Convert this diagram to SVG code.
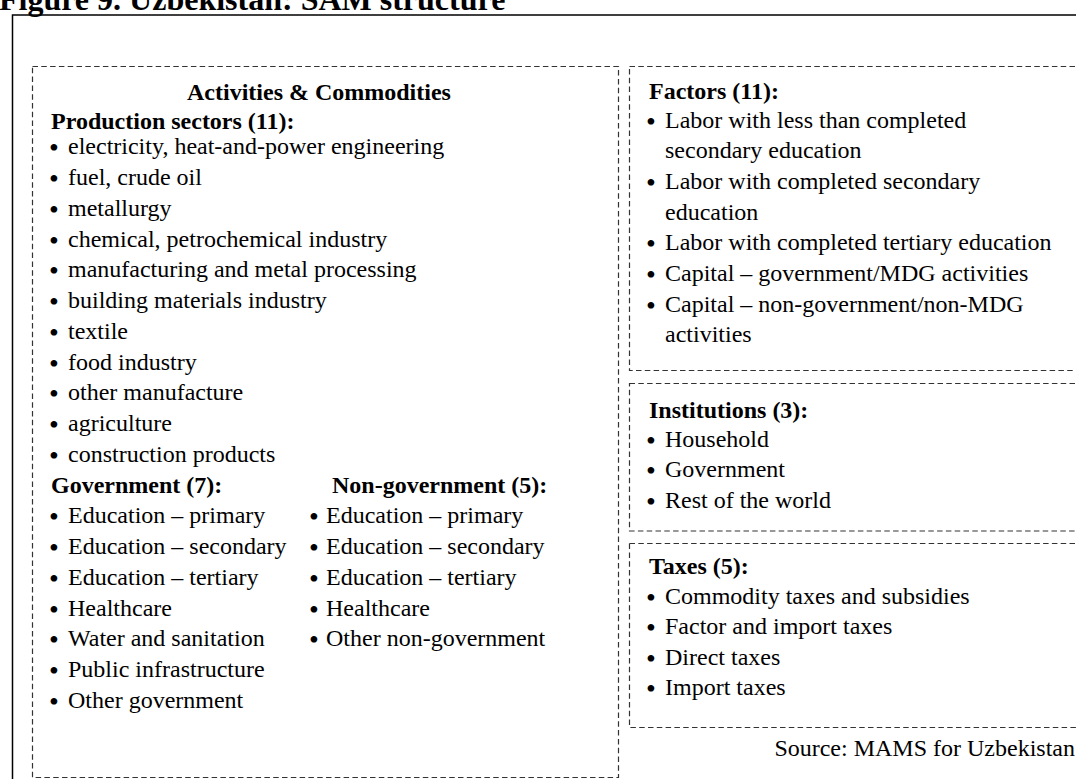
<svg xmlns="http://www.w3.org/2000/svg" width="1076" height="779" viewBox="0 0 1076 779">
  <defs>
    <style>
      text { font-family: "Liberation Serif", "Times New Roman", serif; fill: #000; }
      .t { font-size: 24px; }
      .b { font-size: 24px; font-weight: bold; }
      .dot { font-size: 28px; }
      .title { font-size: 32px; font-weight: bold; }
      .frame { fill: none; stroke: #000; stroke-width: 1.5; }
      .box { fill: none; stroke: #333; stroke-width: 1.2; stroke-dasharray: 5.5 3.3; }
    </style>
    <!-- the government column is cut where the non-government column begins -->
    <clipPath id="govClip">
      <rect x="0" y="470" width="288" height="260"/>
    </clipPath>
  </defs>

  <rect width="1076" height="779" fill="#fff"/>

  <!-- figure caption -->
  <text class="title" x="-1" y="10">Figure 9. Uzbekistan: SAM structure</text>

  <!-- outer frame -->
  <rect class="frame" x="12.5" y="15" width="1090" height="790"/>

  <!-- activities and commodities -->
  <g id="activities">
    <rect class="box" x="32.5" y="66.5" width="586" height="711"/>
    <text class="b" x="187" y="100">Activities &amp; Commodities</text>
    <text class="b" x="51" y="128.5">Production sectors (11):</text>
    <g id="production">
      <text class="t" x="49" y="154.3"><tspan class="dot" dy="3">•</tspan><tspan x="68" dy="-3">electricity, heat-and-power engineering</tspan></text>
      <text class="t" x="49" y="185.05"><tspan class="dot" dy="3">•</tspan><tspan x="68" dy="-3">fuel, crude oil</tspan></text>
      <text class="t" x="49" y="215.8"><tspan class="dot" dy="3">•</tspan><tspan x="68" dy="-3">metallurgy</tspan></text>
      <text class="t" x="49" y="246.55"><tspan class="dot" dy="3">•</tspan><tspan x="68" dy="-3">chemical, petrochemical industry</tspan></text>
      <text class="t" x="49" y="277.3"><tspan class="dot" dy="3">•</tspan><tspan x="68" dy="-3">manufacturing and metal processing</tspan></text>
      <text class="t" x="49" y="308.05"><tspan class="dot" dy="3">•</tspan><tspan x="68" dy="-3">building materials industry</tspan></text>
      <text class="t" x="49" y="338.8"><tspan class="dot" dy="3">•</tspan><tspan x="68" dy="-3">textile</tspan></text>
      <text class="t" x="49" y="369.55"><tspan class="dot" dy="3">•</tspan><tspan x="68" dy="-3">food industry</tspan></text>
      <text class="t" x="49" y="400.3"><tspan class="dot" dy="3">•</tspan><tspan x="68" dy="-3">other manufacture</tspan></text>
      <text class="t" x="49" y="431.05"><tspan class="dot" dy="3">•</tspan><tspan x="68" dy="-3">agriculture</tspan></text>
      <text class="t" x="49" y="461.8"><tspan class="dot" dy="3">•</tspan><tspan x="68" dy="-3">construction products</tspan></text>
    </g>

    <g id="government" clip-path="url(#govClip)">
      <text class="b" x="51" y="492.55">Government (7):</text>
      <text class="t" x="49" y="523.3"><tspan class="dot" dy="3">•</tspan><tspan x="68" dy="-3">Education – primary</tspan></text>
      <text class="t" x="49" y="554.05"><tspan class="dot" dy="3">•</tspan><tspan x="68" dy="-3">Education – secondary</tspan></text>
      <text class="t" x="49" y="584.8"><tspan class="dot" dy="3">•</tspan><tspan x="68" dy="-3">Education – tertiary</tspan></text>
      <text class="t" x="49" y="615.55"><tspan class="dot" dy="3">•</tspan><tspan x="68" dy="-3">Healthcare</tspan></text>
      <text class="t" x="49" y="646.3"><tspan class="dot" dy="3">•</tspan><tspan x="68" dy="-3">Water and sanitation</tspan></text>
      <text class="t" x="49" y="677.05"><tspan class="dot" dy="3">•</tspan><tspan x="68" dy="-3">Public infrastructure</tspan></text>
      <text class="t" x="49" y="707.8"><tspan class="dot" dy="3">•</tspan><tspan x="68" dy="-3">Other government</tspan></text>
    </g>

    <g id="non-government">
      <text class="b" x="332" y="492.55">Non-government (5):</text>
      <text class="t" x="309" y="523.3"><tspan class="dot" dy="3">•</tspan><tspan x="326" dy="-3">Education – primary</tspan></text>
      <text class="t" x="309" y="554.05"><tspan class="dot" dy="3">•</tspan><tspan x="326" dy="-3">Education – secondary</tspan></text>
      <text class="t" x="309" y="584.8"><tspan class="dot" dy="3">•</tspan><tspan x="326" dy="-3">Education – tertiary</tspan></text>
      <text class="t" x="309" y="615.55"><tspan class="dot" dy="3">•</tspan><tspan x="326" dy="-3">Healthcare</tspan></text>
      <text class="t" x="309" y="646.3"><tspan class="dot" dy="3">•</tspan><tspan x="326" dy="-3">Other non-government</tspan></text>
    </g>
  </g>

  <!-- factors -->
  <g id="factors">
    <rect class="box" x="629.5" y="66.5" width="470" height="304"/>
    <text class="b" x="649" y="99">Factors (11):</text>
    <text class="t" x="646" y="127.5"><tspan class="dot" dy="3">•</tspan><tspan x="665" dy="-3">Labor with less than completed</tspan></text>
    <text class="t" x="665" y="158.2">secondary education</text>
    <text class="t" x="646" y="188.9"><tspan class="dot" dy="3">•</tspan><tspan x="665" dy="-3">Labor with completed secondary</tspan></text>
    <text class="t" x="665" y="219.6">education</text>
    <text class="t" x="646" y="250.3"><tspan class="dot" dy="3">•</tspan><tspan x="665" dy="-3">Labor with completed tertiary education</tspan></text>
    <text class="t" x="646" y="281"><tspan class="dot" dy="3">•</tspan><tspan x="665" dy="-3">Capital – government/MDG activities</tspan></text>
    <text class="t" x="646" y="311.7"><tspan class="dot" dy="3">•</tspan><tspan x="665" dy="-3">Capital – non-government/non-MDG</tspan></text>
    <text class="t" x="665" y="342.4">activities</text>
  </g>

  <!-- institutions -->
  <g id="institutions">
    <rect class="box" x="629.5" y="383.5" width="470" height="147.5"/>
    <text class="b" x="649" y="418.3">Institutions (3):</text>
    <text class="t" x="646" y="446.7"><tspan class="dot" dy="3">•</tspan><tspan x="665" dy="-3">Household</tspan></text>
    <text class="t" x="646" y="477.4"><tspan class="dot" dy="3">•</tspan><tspan x="665" dy="-3">Government</tspan></text>
    <text class="t" x="646" y="508.1"><tspan class="dot" dy="3">•</tspan><tspan x="665" dy="-3">Rest of the world</tspan></text>
  </g>

  <!-- taxes -->
  <g id="taxes">
    <rect class="box" x="629.5" y="543.5" width="470" height="184"/>
    <text class="b" x="649" y="574.3">Taxes (5):</text>
    <text class="t" x="646" y="603.8"><tspan class="dot" dy="3">•</tspan><tspan x="665" dy="-3">Commodity taxes and subsidies</tspan></text>
    <text class="t" x="646" y="634.3"><tspan class="dot" dy="3">•</tspan><tspan x="665" dy="-3">Factor and import taxes</tspan></text>
    <text class="t" x="646" y="664.8"><tspan class="dot" dy="3">•</tspan><tspan x="665" dy="-3">Direct taxes</tspan></text>
    <text class="t" x="646" y="695.3"><tspan class="dot" dy="3">•</tspan><tspan x="665" dy="-3">Import taxes</tspan></text>
  </g>

  <text class="t" x="1075" y="756" text-anchor="end">Source: MAMS for Uzbekistan</text>
</svg>
